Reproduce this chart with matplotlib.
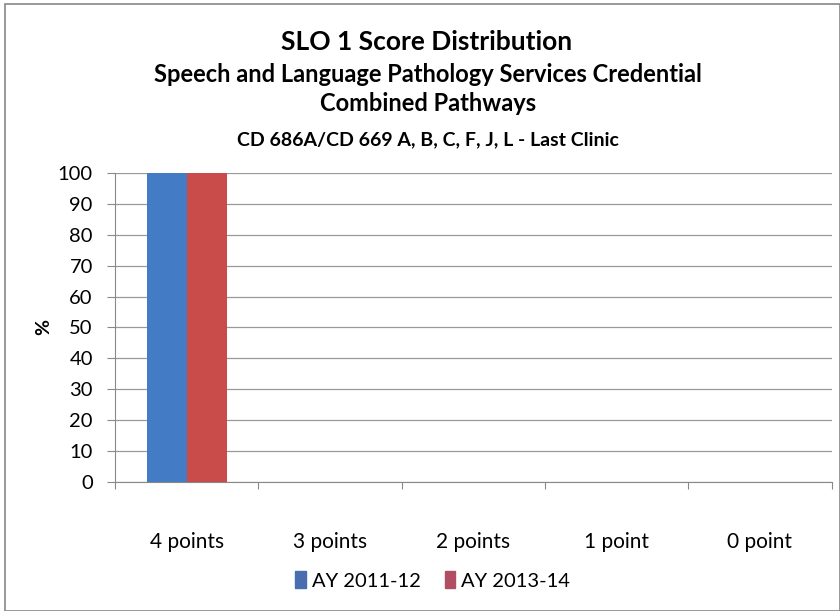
import matplotlib
matplotlib.use("Agg")
import matplotlib.pyplot as plt
import numpy as np
from matplotlib.patches import Rectangle, Patch

categories = ["4 points", "3 points", "2 points", "1 point", "0 point"]
series_names = ["AY 2011-12", "AY 2013-14"]
ay_2011_12 = [100, 0, 0, 0, 0]
ay_2013_14 = [100, 0, 0, 0, 0]
colors = ["#437CC4", "#C94B4A"]

plt.rcParams['font.family'] = ['Lato', 'DejaVu Sans']

fig = plt.figure(figsize=(8.4, 6.11), dpi=100)
fig.patches.append(Rectangle((0.006, 0.0), 0.994, 0.993, transform=fig.transFigure,
                             fill=False, edgecolor="#888888", linewidth=1.2))

ax = fig.add_axes([0.137, 0.211, 0.853, 0.506])
x = np.arange(len(categories))
w = 0.28
ax.bar(x - w / 2, ay_2011_12, w, color=colors[0], label=series_names[0])
ax.bar(x + w / 2, ay_2013_14, w, color=colors[1], label=series_names[1])

ax.set_xlim(-0.5, len(categories) - 0.5)
ax.set_ylim(0, 100)
ax.set_yticks(np.arange(0, 101, 10))
ax.tick_params(axis='y', labelsize=14.5, length=6, color="#888888", pad=10)
ax.yaxis.grid(True, color="#999999", linewidth=0.9)
ax.set_axisbelow(True)

ax.set_xticks(np.arange(-0.5, len(categories), 1.0))
ax.set_xticklabels([])
ax.set_xticks(x, minor=True)
ax.set_xticklabels(categories, minor=True)
ax.tick_params(axis='x', which='major', length=5, color="#888888")
ax.tick_params(axis='x', which='minor', length=0, labelsize=15, pad=36)

for s in ["top", "right"]:
    ax.spines[s].set_visible(False)
for s in ["left", "bottom"]:
    ax.spines[s].set_color("#888888")

ax.set_ylabel("%", fontsize=14, fontweight="bold", labelpad=4)

fig.text(0.508, 0.932, "SLO 1 Score Distribution", ha="center", va="center",
         fontsize=19, fontweight="bold")
fig.text(0.51, 0.878, "Speech and Language Pathology Services Credential", ha="center",
         va="center", fontsize=17, fontweight="bold")
fig.text(0.51, 0.831, "Combined Pathways", ha="center", va="center",
         fontsize=17, fontweight="bold")
fig.text(0.51, 0.771, "CD 686A/CD 669 A, B, C, F, J, L - Last Clinic", ha="center",
         va="center", fontsize=14, fontweight="bold")

handles = [Patch(color="#4A6DB0"), Patch(color="#B24E62")]
fig.legend(handles, series_names, loc="center", bbox_to_anchor=(0.515, 0.05), ncol=2,
           frameon=False, fontsize=14.5, handlelength=0.5, handleheight=0.9,
           handletextpad=0.3, columnspacing=1.2)

fig.savefig("out.png", dpi=100)
